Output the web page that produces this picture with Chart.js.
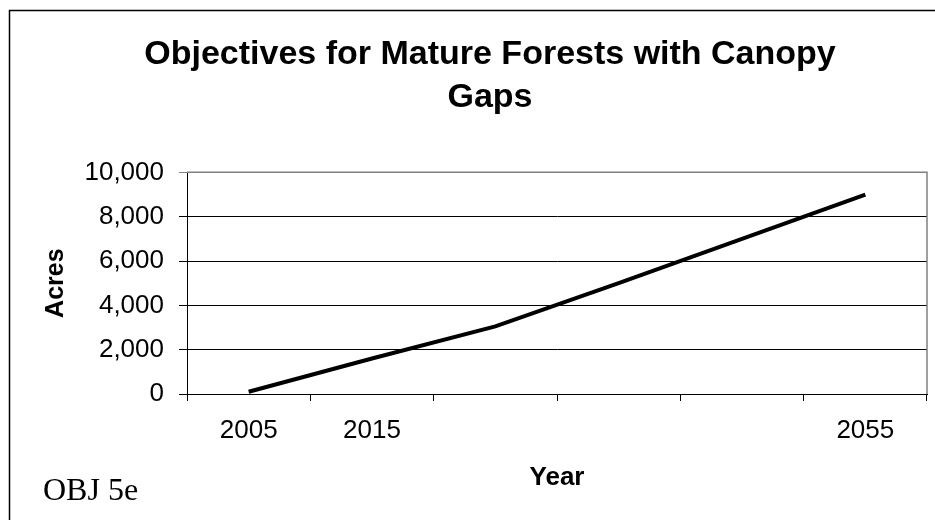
<!DOCTYPE html>
<html>
<head>
<meta charset="utf-8">
<script src="https://cdn.jsdelivr.net/npm/chart.js@4"></script>
<style>
  html, body { margin: 0; padding: 0; background: #fff; }
  canvas { display: block; }
</style>
</head>
<body>
<canvas id="chart" width="935" height="520"></canvas>
<script>
// --- Data ---
const years = ['2005', '2015', '', '', '', '2055'];
const acres = [100, 1600, 3050, 5000, 7000, 9000];
const titleLines = ['Objectives for Mature Forests with Canopy', 'Gaps'];
const noteText = 'OBJ 5e';

// frame, plot border and the "OBJ 5e" note
const extras = {
    id: 'extras',
    afterDraw(chart) {
        const ctx = chart.ctx;
        const a = chart.chartArea;
        ctx.save();
        ctx.strokeStyle = '#000';
        ctx.lineWidth = 1.5;
        ctx.strokeRect(9.5, 10.5, 940, 520);
        ctx.strokeStyle = '#808080';
        ctx.lineWidth = 1.5;
        ctx.beginPath();
        ctx.moveTo(a.left, a.top);
        ctx.lineTo(a.right, a.top);
        ctx.lineTo(a.right, a.bottom);
        ctx.stroke();
        ctx.fillStyle = '#000';
        ctx.font = '32px "Liberation Serif", "Times New Roman", serif';
        ctx.textBaseline = 'alphabetic';
        ctx.fillText(noteText, 43, 500);
        ctx.restore();
    }
};

const sans = '"Liberation Sans", Arial, sans-serif';

new Chart(document.getElementById('chart').getContext('2d'), {
    type: 'line',
    data: {
        labels: years,
        datasets: [{
            data: acres,
            borderColor: '#000',
            borderWidth: 4,
            pointRadius: 0,
            tension: 0,
            fill: false
        }]
    },
    options: {
        responsive: false,
        animation: false,
        layout: { padding: { left: 53, right: 8, top: 0, bottom: 0 } },
        plugins: {
            legend: { display: false },
            tooltip: { enabled: false },
            title: {
                display: true,
                text: titleLines,
                color: '#000',
                font: { family: sans, size: 34, weight: 'bold', lineHeight: 1.27 },
                padding: { top: 33, bottom: 53 }
            }
        },
        scales: {
            x: {
                offset: true,
                afterFit: s => { s.height = 126; },
                grid: {
                    offset: true,
                    drawOnChartArea: false,
                    drawTicks: true,
                    tickLength: 7,
                    color: '#000'
                },
                border: { display: true, color: '#000' },
                ticks: {
                    color: '#000',
                    maxRotation: 0,
                    autoSkip: false,
                    padding: 14,
                    font: { family: sans, size: 26 }
                },
                title: {
                    display: true,
                    text: 'Year',
                    color: '#000',
                    font: { family: sans, size: 26, weight: 'bold', lineHeight: 1.2 },
                    padding: { top: 0, bottom: 27 }
                }
            },
            y: {
                min: 0,
                max: 10000,
                afterFit: s => { s.width = 134; },
                grid: {
                    color: ctx => ctx.tick && ctx.tick.value === 10000 ? '#808080' : '#000',
                    lineWidth: 1,
                    drawTicks: true,
                    tickLength: 8
                },
                border: { display: true, color: '#000' },
                ticks: {
                    stepSize: 2000,
                    color: '#000',
                    padding: 15,
                    font: { family: sans, size: 26 },
                    callback: v => v.toLocaleString('en-US')
                },
                title: {
                    display: true,
                    text: 'Acres',
                    color: '#000',
                    font: { family: sans, size: 25, weight: 'bold', lineHeight: 1.2 },
                    padding: { top: -12, bottom: 0 }
                }
            }
        }
    },
    plugins: [extras]
});
</script>
</body>
</html>
